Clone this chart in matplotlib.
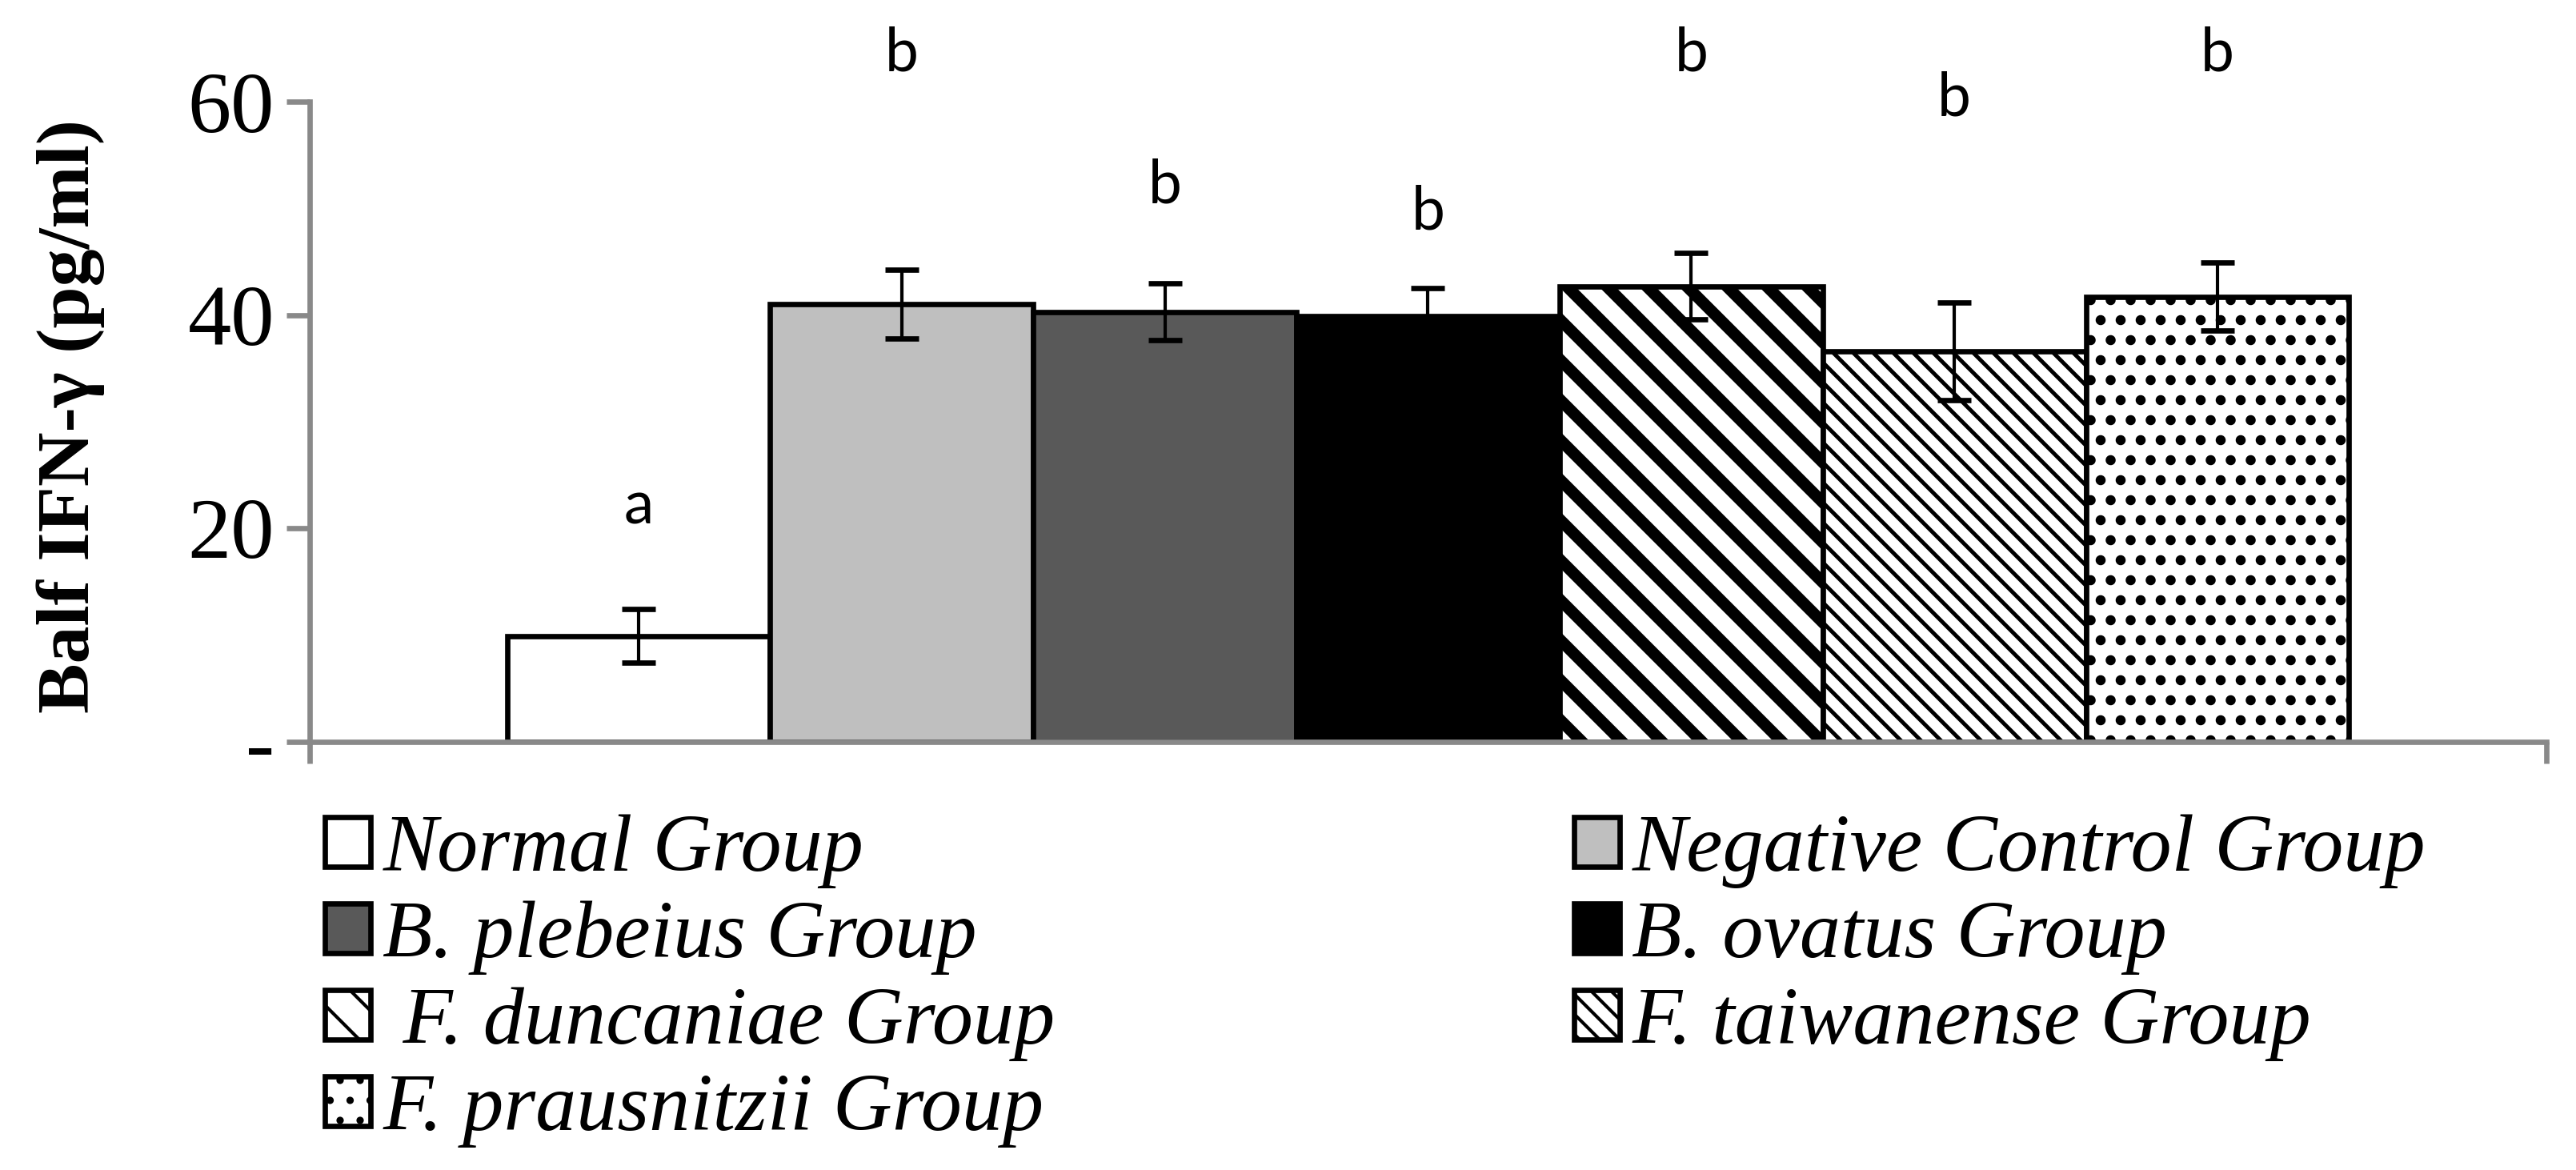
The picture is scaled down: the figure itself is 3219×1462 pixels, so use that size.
import matplotlib
matplotlib.use("Agg")
import matplotlib.pyplot as plt
from matplotlib.font_manager import FontProperties

# ---------------- data ----------------
groups = ["Normal Group", "Negative Control Group", "B. plebeius Group",
          "B. ovatus Group", " F. duncaniae Group", "F. taiwanense Group",
          "F. prausnitzii Group"]
means = [9.9, 41.0, 40.3, 39.9, 42.7, 36.6, 41.7]
errors = [2.5, 3.25, 2.65, 2.6, 3.15, 4.6, 3.2]
letters = ["a", "b", "b", "b", "b", "b", "b"]
letter_y = [20.4, 62.9, 50.5, 48.0, 62.9, 58.7, 62.9]
yticks = [0, 20, 40, 60]
yticklabels = ["-", "20", "40", "60"]
ylabel = "Balf IFN-\u03b3 (pg/ml)"

# ---------------- styles ----------------
facecolors = ["white", "#BFBFBF", "#595959", "black", "white", "white", "white"]
hatches = [None, None, None, None, "\\\\", "\\\\\\\\", ".."]
hatch_lws = [1.0, 1.0, 1.0, 1.0, 3.5, 1.2, 1.8]
axis_gray = "#898989"

fig = plt.figure(figsize=(3220 / 300, 1462 / 300), dpi=300)
ax = fig.add_axes([387 / 3220, 1 - 926.5 / 1462, (3182 - 387) / 3220, (926.5 - 127) / 1462])

xs = list(range(len(groups)))
bars = []
for i, g in enumerate(groups):
    with plt.rc_context({"hatch.linewidth": hatch_lws[i], "hatch.color": "black"}):
        b = ax.bar(xs[i], means[i], width=1.0, color=facecolors[i],
                   edgecolor="black", linewidth=1.6, hatch=hatches[i],
                   label=g, zorder=2)
    for p in b:
        if hasattr(p, "set_hatch_linewidth"):
            p.set_hatch_linewidth(hatch_lws[i])
    bars.append(b)

ax.errorbar(xs, means, yerr=errors, fmt="none", ecolor="black",
            elinewidth=1.0, capsize=5, capthick=1.6, zorder=3)

for i in xs:
    ax.text(xs[i], letter_y[i], letters[i], ha="center", va="baseline",
            fontsize=18, family="Lato", clip_on=False)

ax.set_xlim(-1.25, len(groups) - 1 + 1.25)
ax.set_ylim(0, 60)
ax.set_yticks(yticks)
ax.set_yticklabels(yticklabels, family="Liberation Serif", fontsize=26)
ax.set_xticks([-1.25, len(groups) - 1 + 1.25])
ax.set_xticklabels(["", ""])

for s in ["top", "right"]:
    ax.spines[s].set_visible(False)
for s in ["left", "bottom"]:
    ax.spines[s].set_color(axis_gray)
    ax.spines[s].set_linewidth(1.6)
ax.tick_params(axis="y", length=7, width=1.6, color=axis_gray, pad=3.5)
ax.tick_params(axis="x", length=6.5, width=1.6, color=axis_gray)

fig.text(88 / 3220, 1 - 520 / 1462, ylabel, rotation=90, ha="center", va="center",
         family="Liberation Serif", weight="bold", fontsize=22.5)

legfont = FontProperties(family="Liberation Serif", style="italic", size=24.5)
col1 = [0, 2, 4, 6]
col2 = [1, 3, 5]
for cols, xpos in [(col1, 406), (col2, 1967)]:
    leg = fig.legend([bars[i] for i in cols], [groups[i] for i in cols],
                     loc="upper left", bbox_to_anchor=(xpos / 3220, 1 - 1018 / 1462),
                     frameon=False, prop=legfont, borderpad=0, borderaxespad=0,
                     handlelength=0.56, handleheight=0.56, handletextpad=0.15,
                     labelspacing=0.15)

fig.savefig("out.png", dpi=300)
